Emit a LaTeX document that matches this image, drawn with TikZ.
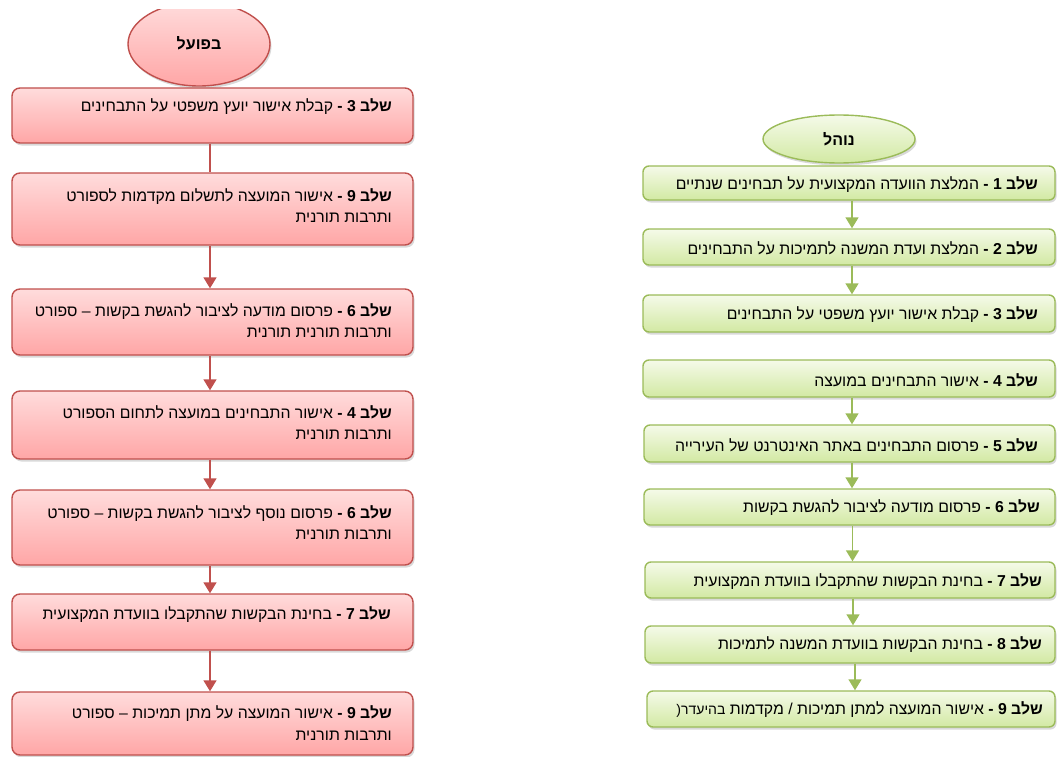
\documentclass[tikz,border=0pt]{standalone}
\usepackage{fontspec}
\setmainfont{Liberation Sans}
\newfontfamily\heb[Script=Hebrew]{Liberation Sans}
\TeXXeTstate=1
\usetikzlibrary{arrows.meta,shadows,shapes.geometric}
\newcommand\hebline[1]{\beginR #1\endR}
\definecolor{redline}{HTML}{C0504D}
\definecolor{pinktop}{HTML}{FFDCDC}
\definecolor{pinkbot}{HTML}{FFA6A6}
\definecolor{greenline}{HTML}{9BBB59}
\definecolor{greentop}{HTML}{F5FAE9}
\definecolor{greenbot}{HTML}{D2E9A3}
\tikzset{
  shad/.style={drop shadow={shadow xshift=1.5pt,shadow yshift=-2.5pt,opacity=0.25,fill=black!60}},
  lbox/.style={draw=redline,line width=1.4pt,rounded corners=8pt,top color=pinktop,bottom color=pinkbot,shad,minimum width=401pt,inner sep=0pt},
  rbox/.style={draw=greenline,line width=1.4pt,rounded corners=6pt,top color=greentop,bottom color=greenbot,shad,inner sep=0pt},
  lell/.style={ellipse,draw=redline,line width=1.4pt,top color=pinktop,bottom color=pinkbot,shad,inner sep=0pt},
  rell/.style={ellipse,draw=greenline,line width=1.4pt,top color=greentop,bottom color=greenbot,shad,inner sep=0pt},
  txt/.style={inner sep=0pt,anchor=east,align=right,font=\heb\fontsize{15.8}{21.5}\selectfont},
  larr/.style={draw=redline,line width=1.5pt,-{Triangle[width=13pt,length=11pt]}},
  lline/.style={draw=redline,line width=1.5pt},
  rarr/.style={draw=greenline,line width=1.5pt,-{Triangle[width=13pt,length=11pt]}},
}
\begin{document}
\begin{tikzpicture}[x=1pt,y=-1pt]
\useasboundingbox (0,0) rectangle (1057,757);
% ---------- left column ----------
\begin{scope}
\clip (0,10) rectangle (1057,757);
\node[lell,minimum width=142pt,minimum height=84pt] (le) at (199,44) {};
\end{scope}
\node[inner sep=0pt,font=\heb\bfseries\fontsize{16}{18}\selectfont] (let) at (199,43) {\hebline{בפועל}};

\node[lbox,minimum height=55pt] (l3) at (212.5,115.5) {};
\node[lbox,minimum height=72pt] (l9a) at (212.5,209) {};
\node[lbox,minimum height=66pt] (l6a) at (212.5,322) {};
\node[lbox,minimum height=68pt] (l4) at (212.5,425) {};
\node[lbox,minimum height=75pt] (l6b) at (212.5,527.5) {};
\node[lbox,minimum height=56pt] (l7) at (212.5,622) {};
\node[lbox,minimum height=63pt] (l9b) at (212.5,723.5) {};

\node[txt] (tl3) at (392,107) {\hebline{\textbf{שלב 3 -} קבלת אישור יועץ משפטי על התבחינים}};
\node[txt] (tl9a) at (392,205.5) {\hebline{\textbf{שלב 9 -} אישור המועצה לתשלום מקדמות לספורט}\\\hebline{ותרבות תורנית}};
\node[txt] (tl6a) at (392,320.5) {\hebline{\textbf{שלב 6 -} פרסום מודעה לציבור להגשת בקשות – ספורט}\\\hebline{ותרבות תורנית תורנית}};
\node[txt] (tl4) at (392,422.5) {\hebline{\textbf{שלב 4 -} אישור התבחינים במועצה לתחום הספורט}\\\hebline{ותרבות תורנית}};
\node[txt] (tl6b) at (392,522.5) {\hebline{\textbf{שלב 6 -} פרסום נוסף לציבור להגשת בקשות – ספורט}\\\hebline{ותרבות תורנית}};
\node[txt] (tl7) at (391,615) {\hebline{\textbf{שלב 7 -} בחינת הבקשות שהתקבלו בוועדת המקצועית}};
\node[txt] (tl9b) at (392,723) {\hebline{\textbf{שלב 9 -} אישור המועצה על מתן תמיכות – ספורט}\\\hebline{ותרבות תורנית}};

\draw[lline] ([xshift=-2.5pt]l3.south) -- ([xshift=-2.5pt]l3.south |- l9a.north);
\draw[larr] ([xshift=-2.5pt]l9a.south) -- ([xshift=-2.5pt]l9a.south |- l6a.north);
\draw[larr] ([xshift=-2.5pt]l6a.south) -- ([xshift=-2.5pt]l6a.south |- l4.north);
\draw[larr] ([xshift=-2.5pt]l4.south) -- ([xshift=-2.5pt]l4.south |- l6b.north);
\draw[larr] ([xshift=-2.5pt]l6b.south) -- ([xshift=-2.5pt]l6b.south |- l7.north);
\draw[larr] ([xshift=-2.5pt]l7.south) -- ([xshift=-2.5pt]l7.south |- l9b.north);

% ---------- right column ----------
\node[rell,minimum width=152pt,minimum height=48pt,font=\heb\bfseries\fontsize{16}{18}\selectfont] (re) at (839,139) {\hebline{נוהל}};

\node[rbox,minimum width=412pt,minimum height=34pt] (r1) at (849,183) {};
\node[rbox,minimum width=412pt,minimum height=36pt] (r2) at (849,247) {};
\node[rbox,minimum width=412pt,minimum height=37pt] (r3) at (849,313.5) {};
\node[rbox,minimum width=412pt,minimum height=37pt] (r4) at (849,378.5) {};
\node[rbox,minimum width=411pt,minimum height=37pt] (r5) at (849.5,443.5) {};
\node[rbox,minimum width=411pt,minimum height=36pt] (r6) at (849.5,507) {};
\node[rbox,minimum width=410pt,minimum height=36pt] (r7) at (850,580) {};
\node[rbox,minimum width=410pt,minimum height=37pt] (r8) at (850,644.5) {};
\node[rbox,minimum width=408pt,minimum height=36pt] (r9) at (851,709) {};

\node[txt] (tr1) at (1038,185) {\hebline{\textbf{שלב 1 -} המלצת הוועדה המקצועית על תבחינים שנתיים}};
\node[txt] (tr2) at (1038,248) {\hebline{\textbf{שלב 2 -} המלצת ועדת המשנה לתמיכות על התבחינים}};
\node[txt] (tr3) at (1038,315) {\hebline{\textbf{שלב 3 -} קבלת אישור יועץ משפטי על התבחינים}};
\node[txt] (tr4) at (1038,380) {\hebline{\textbf{שלב 4 -} אישור התבחינים במועצה}};
\node[txt] (tr5) at (1038,445) {\hebline{\textbf{שלב 5 -} פרסום התבחינים באתר האינטרנט של העירייה}};
\node[txt] (tr6) at (1040,508) {\hebline{\textbf{שלב 6 -} פרסום מודעה לציבור להגשת בקשות}};
\node[txt] (tr7) at (1042,582) {\hebline{\textbf{שלב 7 -} בחינת הבקשות שהתקבלו בוועדת המקצועית}};
\node[txt] (tr8) at (1042,645) {\hebline{\textbf{שלב 8 -} בחינת הבקשות בוועדת המשנה לתמיכות}};
\node[txt] (tr9) at (1043,710) {\hebline{\textbf{שלב 9 -} אישור המועצה למתן תמיכות / מקדמות {\fontsize{14}{16}\selectfont בהיעדר\kern0pt(}}};

\draw[rarr] ([xshift=3pt]r1.south) -- ([xshift=3pt]r1.south |- r2.north);
\draw[rarr] ([xshift=3pt]r2.south) -- ([xshift=3pt]r2.south |- r3.north);
\draw[rarr] ([xshift=3pt]r4.south) -- ([xshift=3pt]r4.south |- r5.north);
\draw[rarr] ([xshift=2.5pt]r5.south) -- ([xshift=2.5pt]r5.south |- r6.north);
\draw[rarr] ([xshift=3pt]r6.south) -- ([xshift=3pt]r6.south |- r7.north);
\draw[rarr] ([xshift=3pt]r7.south) -- ([xshift=3pt]r7.south |- r8.north);
\draw[rarr] ([xshift=5pt]r8.south) -- ([xshift=5pt]r8.south |- r9.north);
\end{tikzpicture}
\end{document}
